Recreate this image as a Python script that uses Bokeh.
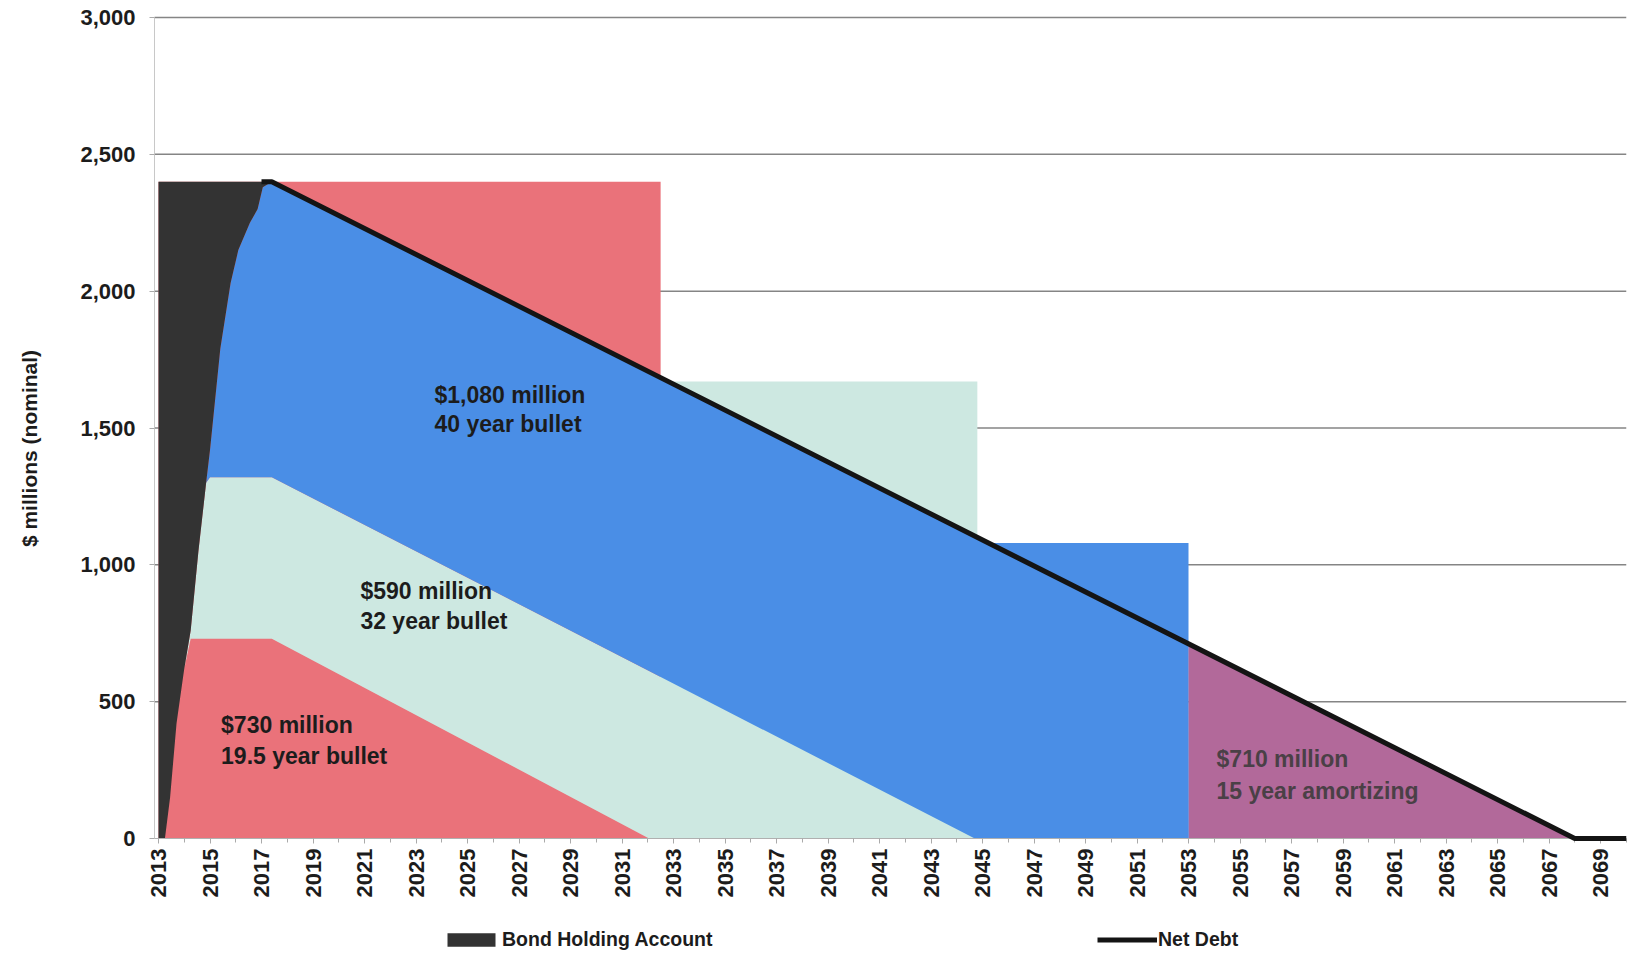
import math
from bokeh.plotting import figure
from bokeh.models import (ColumnDataSource, Range1d, FixedTicker, NumeralTickFormatter,
                          Label, Legend, LegendItem)
from bokeh.core.properties import value
from bokeh.embed import file_html
from bokeh.resources import INLINE

# ---------------- data ----------------
years = [2013.0, 2013.25, 2013.45, 2013.7, 2014.0, 2014.25, 2014.55, 2014.85, 2015.0,
         2015.4, 2015.8, 2016.1, 2016.55, 2016.85, 2017.05, 2017.4, 2032.05, 2044.7,
         2053.0, 2053.01, 2068.0, 2070.0]
bullet_730 = [0, 0, 150, 420, 620, 730, 730, 730, 730, 730, 730, 730, 730, 730, 730, 730,
              0, 0, 0, 0, 0, 0]
bullet_590 = [0, 0, 0, 0, 0, 30, 320, 570, 590, 590, 590, 590, 590, 590, 590, 590,
              612, 0, 0, 0, 0, 0]
bullet_1080 = [0, 0, 0, 0, 0, 0, 0, 0, 100, 470, 710, 830, 930, 980, 1060, 1080,
               1094, 1106, 713, 0, 0, 0]
amort_710 = [0, 0, 0, 0, 0, 0, 0, 0, 0, 0, 0, 0, 0, 0, 0, 0,
             0, 0, 0, 713, 0, 0]
holding = [2400, 2400, 2250, 1980, 1780, 1640, 1350, 1100, 980, 610, 370, 250, 150, 100, 20, 0,
           0, 0, 0, 0, 0, 0]

net_debt_years = [2017.0, 2017.4, 2068.0, 2070.0]
net_debt = [2400, 2400, 0, 0]

gross_from = [2013.0, 2032.5, 2044.8]
gross_to = [2032.5, 2044.8, 2053.0]
gross_top = [2400, 1670, 1080]

y_ticks = [0, 500, 1000, 1500, 2000, 2500, 3000]
grid_levels = [500, 1000, 1500, 2000, 2500, 3000]
x_label_years = list(range(2013, 2070, 2))
x_minor_years = list(range(2013, 2071))

note_x = [2023.72, 2023.72, 2020.84, 2020.84, 2015.43, 2015.43]
note_y = [1619, 1513, 906, 793, 413, 300]
note_text = ["$1,080 million", "40 year bullet", "$590 million", "32 year bullet",
             "$730 million", "19.5 year bullet"]
note2_x = [2054.09, 2054.09]
note2_y = [292, 175]
note2_text = ["$710 million", "15 year amortizing"]

# ---------------- layout / style ----------------
W, H = 1630, 952
PX_YEAR = 25.75            # pixels per year
PX_UNIT = 821 / 3000.0     # pixels per $ million
X_AXIS_AT = 2013 - 4 / PX_YEAR
X_START = 2013 - 158 / PX_YEAR
X_END = X_START + W / PX_YEAR
Y_END = 3000 + 17 / PX_UNIT
Y_START = -(H - 838) / PX_UNIT

RED = "#EA727A"
CYAN = "#CDE8E1"
BLUE = "#4A8EE6"
PURPLE = "#B2699A"
BLACK = "#333333"
FONT = "Liberation Sans"
TXT = "#1c1c1c"

p = figure(width=W, height=H, output_backend="svg", toolbar_location=None,
           x_range=Range1d(X_START, X_END), y_range=Range1d(Y_START, Y_END),
           min_border=0)
p.outline_line_color = None
p.background_fill_color = "white"
p.xgrid.visible = False
p.ygrid.visible = False

# horizontal grid lines, from the axis to the right edge
p.segment(x0=[X_AXIS_AT] * len(grid_levels), x1=[2070.0] * len(grid_levels),
          y0=grid_levels, y1=grid_levels, line_color="#858585", line_width=1.5)

# gross debt outstanding (background blocks)
p.quad(left=gross_from, right=gross_to, bottom=0, top=gross_top,
       fill_color=[RED, CYAN, BLUE], line_color=None)

src = ColumnDataSource(dict(x=years, b730=bullet_730, b590=bullet_590, b1080=bullet_1080,
                            a710=amort_710, hold=holding))
rs = p.varea_stack(stackers=["b730", "b590", "b1080", "a710", "hold"], x="x",
                   color=[RED, CYAN, BLUE, PURPLE, BLACK], source=src)

nd = p.line(net_debt_years, net_debt, line_color="#141414", line_width=5, level="overlay")

p.text(x=note_x, y=note_y, text=note_text, text_font=value(FONT), text_font_style="bold",
       text_font_size="23px", text_color=TXT, text_baseline="middle", text_align="left")
p.text(x=note2_x, y=note2_y, text=note2_text, text_font=value(FONT), text_font_style="bold",
       text_font_size="23px", text_color="#4a4046", text_baseline="middle", text_align="left")

# axes drawn at fixed positions inside the frame
p.yaxis.fixed_location = X_AXIS_AT
p.yaxis.bounds = (0, 3000)
p.yaxis.ticker = FixedTicker(ticks=y_ticks)
p.yaxis.formatter = NumeralTickFormatter(format="0,0")
p.yaxis.axis_line_color = "#c8c8c8"
p.yaxis.major_tick_line_color = "#aaaaaa"
p.yaxis.major_tick_out = 5
p.yaxis.major_tick_in = 0
p.yaxis.minor_tick_line_color = None
p.yaxis.major_label_standoff = 14

p.xaxis.fixed_location = 0
p.xaxis.bounds = (X_AXIS_AT, 2070.0)
p.xaxis.ticker = FixedTicker(ticks=x_label_years, minor_ticks=x_minor_years)
p.xaxis.major_label_orientation = math.pi / 2
p.xaxis.axis_line_color = "#b0b0b0"
p.xaxis.major_tick_line_color = "#aaaaaa"
p.xaxis.minor_tick_line_color = "#aaaaaa"
p.xaxis.major_tick_out = 5
p.xaxis.major_tick_in = 0
p.xaxis.minor_tick_out = 4
p.xaxis.minor_tick_in = 0
p.xaxis.major_label_standoff = 5

for ax in (p.xaxis, p.yaxis):
    ax.major_label_text_font = FONT
    ax.major_label_text_font_style = "bold"
    ax.major_label_text_font_size = "22px"
    ax.major_label_text_color = TXT

p.add_layout(Label(x=29, y=H - 448, x_units="screen", y_units="screen",
                   text="$ millions (nominal)", angle=math.pi / 2, text_align="center",
                   text_baseline="middle", text_font=FONT, text_font_style="bold",
                   text_font_size="21px", text_color=TXT))

legend = Legend(items=[LegendItem(label="Bond Holding Account", renderers=[rs[4]]),
                       LegendItem(label="Net Debt", renderers=[nd])],
                orientation="horizontal", location=(441, 1), padding=0, margin=0,
                border_line_color=None, background_fill_alpha=0,
                label_text_font=FONT, label_text_font_style="bold",
                label_text_font_size="19.5px", label_text_color=TXT,
                glyph_width=60, glyph_height=17, label_standoff=1,
                label_width=220, spacing=375)
p.add_layout(legend)

open("out.html", "w").write(file_html(p, INLINE))
